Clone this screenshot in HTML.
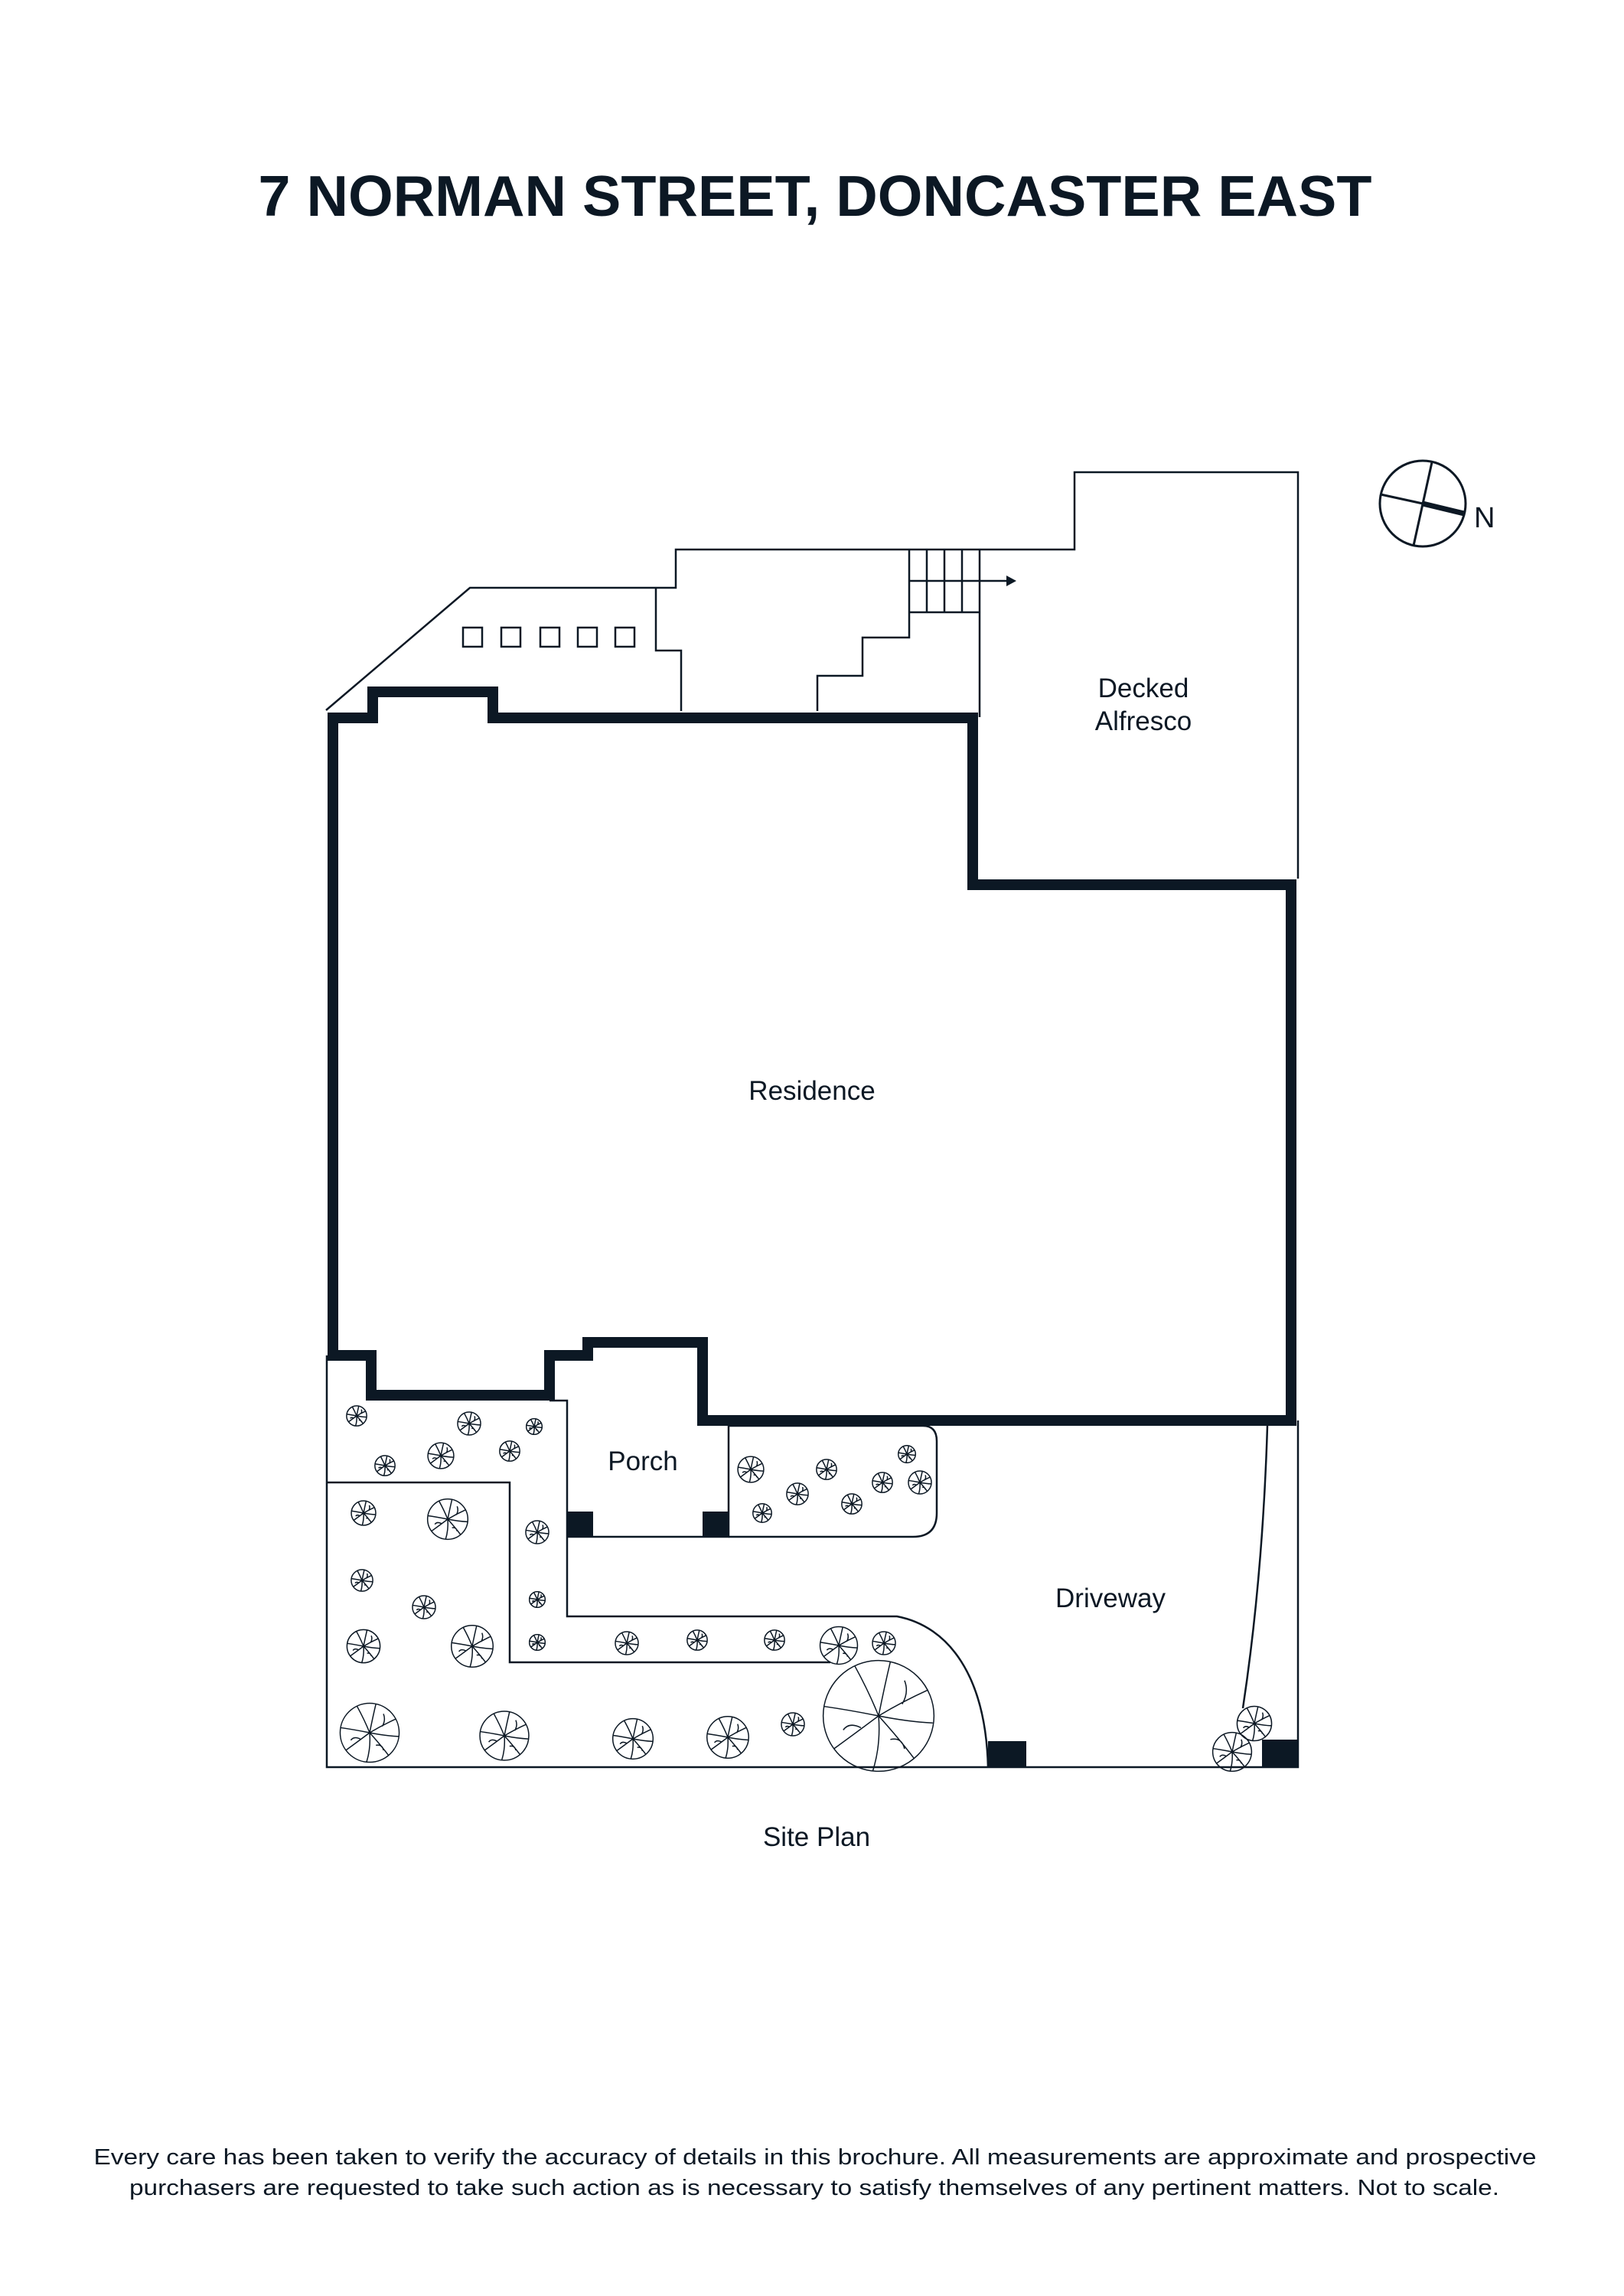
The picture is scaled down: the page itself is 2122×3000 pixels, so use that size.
<!DOCTYPE html>
<html><head><meta charset="utf-8"><style>
html,body{margin:0;padding:0;background:#fff}
svg{display:block}
text{font-family:"Liberation Sans",sans-serif;fill:#0c1824}
</style></head><body>
<svg width="2122" height="3000" viewBox="0 0 2122 3000" xmlns="http://www.w3.org/2000/svg">
<defs>
<symbol id="t" viewBox="-50 -50 100 100">
<g fill="none" stroke="#0c1824" stroke-width="1.5" vector-effect="non-scaling-stroke">
<circle cx="0" cy="0" r="47" vector-effect="non-scaling-stroke"/>
<path vector-effect="non-scaling-stroke" d="M0 0 Q5 -25 10 -46 M0 0 Q-8 -20 -20 -42 M0 0 Q20 -12 42 -22 M0 0 Q25 5 46 6 M0 0 Q18 20 30 36 M0 0 Q2 25 -5 47 M0 0 Q-20 15 -38 28 M0 0 Q-25 -5 -46 -8 M20 -10 Q26 -20 22 -30 M-15 10 Q-25 5 -30 12 M10 20 Q20 18 22 28"/>
</g>
</symbol>
</defs>

<text x="1065" y="282" font-size="75" font-weight="bold" text-anchor="middle" textLength="1455" lengthAdjust="spacingAndGlyphs">7 NORMAN STREET, DONCASTER EAST</text>

<g stroke="#0c1824" fill="none">
<circle cx="1859" cy="658" r="56" stroke-width="3"/>
<line x1="1871" y1="604" x2="1847" y2="713" stroke-width="3"/>
<line x1="1804" y1="646" x2="1859" y2="658" stroke-width="3"/>
<line x1="1859" y1="658" x2="1913" y2="671" stroke-width="7"/>
</g>
<text x="1926" y="689" font-size="38">N</text>

<g fill="none" stroke="#0c1824" stroke-width="2.5">
<polyline points="426,928 614,768 883,768 883,718 1404,718 1404,617 1696,617 1696,1148"/>
<polyline points="857,768 857,850 890,850 890,929"/>
<polyline points="1188,718 1188,833 1127,833 1127,883 1068,883 1068,929"/>
<line x1="1280" y1="718" x2="1280" y2="937"/>
<line x1="1211" y1="718" x2="1211" y2="800"/>
<line x1="1234" y1="718" x2="1234" y2="800"/>
<line x1="1257" y1="718" x2="1257" y2="800"/>
<line x1="1188" y1="800" x2="1280" y2="800"/>
<line x1="1188" y1="759" x2="1315" y2="759"/>
<rect x="605" y="820" width="25" height="25"/>
<rect x="655" y="820" width="25" height="25"/>
<rect x="706" y="820" width="25" height="25"/>
<rect x="755" y="820" width="25" height="25"/>
<rect x="804" y="820" width="25" height="25"/>
<polyline points="427,1771 427,2309 1696,2309 1696,1856"/>
<path d="M718 1830 L741 1830 L741 2112 L1172 2112 C1240 2125 1288 2190 1291 2309"/>
<polyline points="741,2008 952,2008 952,1856"/>
<path d="M952 1863 L1206 1863 Q1224 1863 1224 1883 L1224 1977 Q1224 2008 1193 2008 L952 2008"/>
<polyline points="427,1937 666,1937 666,2172 1085,2172"/>
<path d="M1656 1863 Q1650 2060 1624 2232"/>
</g>
<polygon points="1315,752 1328,759 1315,766" fill="#0c1824"/>

<path fill="none" stroke="#0c1824" stroke-width="14" stroke-linejoin="miter" d="M435 1771 L435 938 L487 938 L487 904 L644 904 L644 938 L1271 938 L1271 1156 L1687 1156 L1687 1856 L918 1856 L918 1754 L768 1754 L768 1771 L718 1771 L718 1823 L485 1823 L485 1771 Z"/>

<g fill="#0c1824">
<rect x="741" y="1975" width="34" height="33"/>
<rect x="918" y="1975" width="34" height="33"/>
<rect x="1291" y="2275" width="50" height="35"/>
<rect x="1649" y="2273" width="47" height="36"/>
</g>

<g>
<use href="#t" x="452" y="1836" width="28" height="28"/>
<use href="#t" x="597" y="1844" width="32" height="32"/>
<use href="#t" x="687" y="1853" width="22" height="22"/>
<use href="#t" x="558" y="1884" width="36" height="36"/>
<use href="#t" x="652" y="1882" width="28" height="28"/>
<use href="#t" x="489" y="1901" width="28" height="28"/>
<use href="#t" x="458" y="1960" width="34" height="34"/>
<use href="#t" x="557" y="1957" width="56" height="56"/>
<use href="#t" x="686" y="1986" width="32" height="32"/>
<use href="#t" x="458" y="2050" width="30" height="30"/>
<use href="#t" x="538" y="2084" width="32" height="32"/>
<use href="#t" x="691" y="2079" width="22" height="22"/>
<use href="#t" x="452" y="2128" width="46" height="46"/>
<use href="#t" x="588" y="2122" width="58" height="58"/>
<use href="#t" x="691" y="2135" width="22" height="22"/>
<use href="#t" x="803" y="2131" width="32" height="32"/>
<use href="#t" x="897" y="2129" width="28" height="28"/>
<use href="#t" x="998" y="2129" width="28" height="28"/>
<use href="#t" x="1070" y="2124" width="52" height="52"/>
<use href="#t" x="1139" y="2131" width="32" height="32"/>
<use href="#t" x="1071" y="2165" width="154" height="154"/>
<use href="#t" x="442" y="2223" width="82" height="82"/>
<use href="#t" x="625" y="2234" width="68" height="68"/>
<use href="#t" x="799" y="2244" width="56" height="56"/>
<use href="#t" x="922" y="2241" width="58" height="58"/>
<use href="#t" x="1020" y="2237" width="32" height="32"/>
<use href="#t" x="1615" y="2228" width="48" height="48"/>
<use href="#t" x="1583" y="2262" width="54" height="54"/>
<use href="#t" x="963" y="1902" width="36" height="36"/>
<use href="#t" x="1066" y="1906" width="28" height="28"/>
<use href="#t" x="1173" y="1888" width="24" height="24"/>
<use href="#t" x="1027" y="1937" width="30" height="30"/>
<use href="#t" x="1139" y="1923" width="28" height="28"/>
<use href="#t" x="1186" y="1921" width="32" height="32"/>
<use href="#t" x="1099" y="1951" width="28" height="28"/>
<use href="#t" x="983" y="1964" width="26" height="26"/>
</g>

<g font-size="35" text-anchor="middle">
<text x="1494" y="911">Decked</text>
<text x="1494" y="954">Alfresco</text>
<text x="1061" y="1437">Residence</text>
<text x="840" y="1921">Porch</text>
<text x="1451" y="2100">Driveway</text>
<text x="1067" y="2412">Site Plan</text>
</g>
<g font-size="29" text-anchor="middle">
<text x="1065" y="2828" textLength="1885" lengthAdjust="spacingAndGlyphs">Every care has been taken to verify the accuracy of details in this brochure. All measurements are approximate and prospective</text>
<text x="1064" y="2868" textLength="1790" lengthAdjust="spacingAndGlyphs">purchasers are requested to take such action as is necessary to satisfy themselves of any pertinent matters. Not to scale.</text>
</g>
</svg>
</body></html>
